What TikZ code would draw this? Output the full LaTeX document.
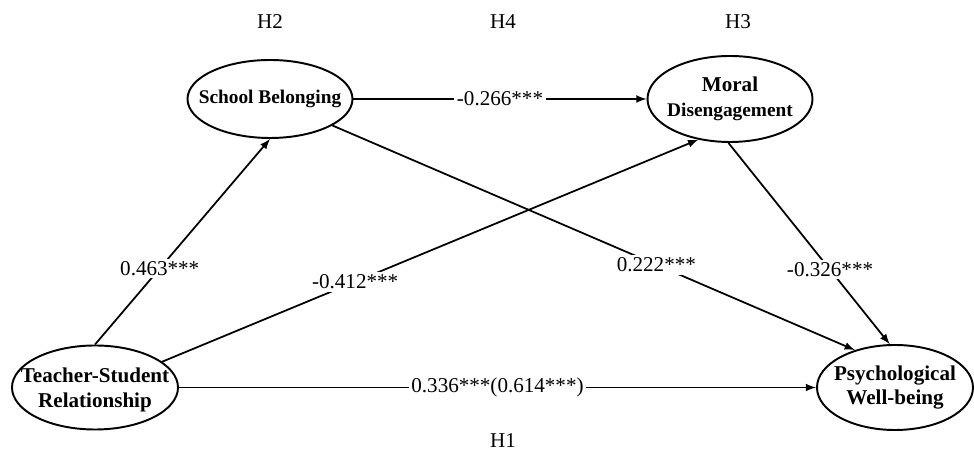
\documentclass[tikz,border=0pt]{standalone}
\usepackage{fontspec}
\setmainfont{Liberation Serif}
\usepackage{tikz}
\usetikzlibrary{positioning}
\usetikzlibrary{arrows}
\usetikzlibrary{shapes}

\begin{document}
\begin{tikzpicture}[>=latex, line width=1pt,
    construct/.style={draw, ellipse, line width=1.1pt, inner sep=0pt},
    coef/.style={fill=white, inner sep=1.5pt, font=\fontsize{12}{14}\selectfont},
    hypo/.style={font=\fontsize{12}{14}\selectfont}]
    \useasboundingbox (0,0) rectangle (19.48,9.04);

    % the four constructs
    \node at (1.90, 1.29)[construct, minimum width=3.32cm, minimum height=1.68cm,
    label={[align=center,yshift=-0.05cm,font=\bfseries\fontsize{12}{14}\selectfont]center:Teacher-Student\\Relationship}] (tsr) {};

    \node at (5.40, 7.06)[construct, minimum width=3.30cm, minimum height=1.56cm,
    label={[font=\bfseries\fontsize{11}{14}\selectfont]center:School Belonging}] (sb) {};

    \node at (14.60, 7.06)[construct, minimum width=3.30cm, minimum height=1.72cm,
    label={[align=center,font=\bfseries\fontsize{12}{14}\selectfont]center:Moral\\{\fontsize{11}{14}\selectfont Disengagement}}] (md) {};

    \node at (17.90, 1.29)[construct, minimum width=3.12cm, minimum height=1.70cm,
    label={[align=center,font=\bfseries\fontsize{12}{14}\selectfont]center:Psychological\\Well-being}] (pwb) {};

    % the paths and coefficients
    \draw [->](tsr.north) to node[coef, pos=0.37] {0.463***} (sb.south);
    \draw [->](tsr.21) to node[coef, pos=0.36] {-0.412***} (md.232);
    \draw [->](sb.east) to node[coef] {-0.266***} (md.west);
    \draw [->](sb.-23) to node[coef, pos=0.62] {0.222***} (pwb.137);
    \draw [->](md.268) to node[coef, pos=0.63] {-0.326***} (pwb.97);
    \draw [->](tsr.east) to node[coef] {0.336***(0.614***)} (pwb.west);

    % hypothesis labels
    \node[hypo] at (5.40, 8.60) (h2) {H2};
    \node[hypo] at (10.06, 8.60) (h4) {H4};
    \node[hypo] at (14.76, 8.60) (h3) {H3};
    \node[hypo] at (10.06, 0.22) (h1) {H1};
\end{tikzpicture}
\end{document}
